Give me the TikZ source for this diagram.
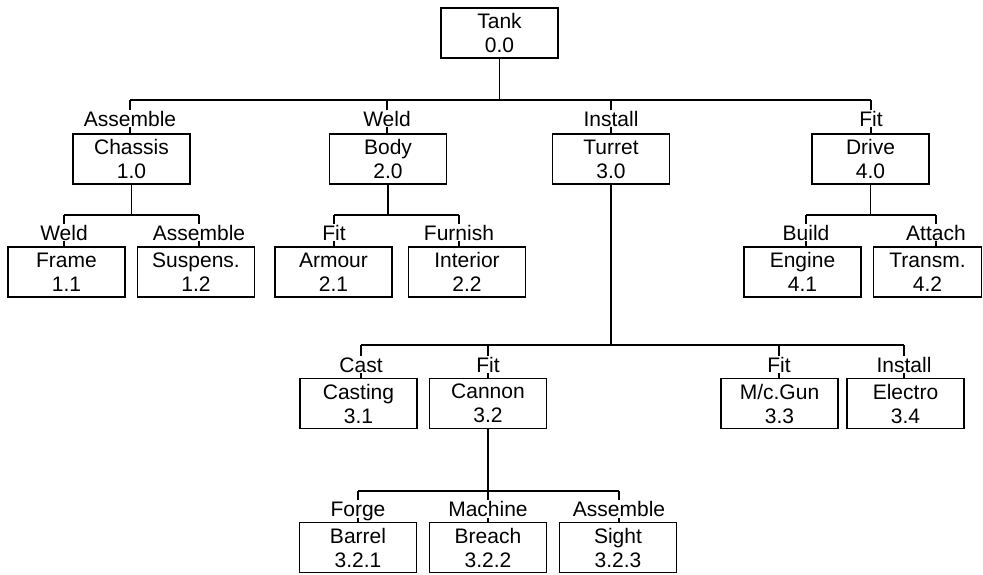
\documentclass[tikz,border=0pt]{standalone}
\usepackage{fontspec}
\setmainfont{Liberation Sans}
\begin{document}
\begin{tikzpicture}[x=1pt,y=-1pt, font=\fontsize{21}{24}\selectfont,
  box/.style={draw, line width=1.3pt, minimum width=117pt, minimum height=50pt, inner sep=0pt, align=center},
  lab/.style={inner sep=1pt, text height=15pt, text depth=0pt, anchor=base},
  conn/.style={line width=1.3pt}]
\useasboundingbox (0,0) rectangle (983,574);
% boxes
\node[box] (tank) at (499.5,33) {Tank\\0.0};
\node[box] (chassis) at (131.5,159) {Chassis\\1.0};
\node[box] (body) at (388,159) {Body\\2.0};
\node[box] (turret) at (611,159) {Turret\\3.0};
\node[box] (drive) at (870.5,159) {Drive\\4.0};
\node[box] (frame) at (66.5,272) {Frame\\1.1};
\node[box] (suspens) at (196,272) {Suspens.\\1.2};
\node[box] (armour) at (333.5,272) {Armour\\2.1};
\node[box] (interior) at (467,272) {Interior\\2.2};
\node[box] (engine) at (802.5,272) {Engine\\4.1};
\node[box, minimum width=108pt] (transm) at (927.5,272) {Transm.\\4.2};
\node[box] (casting) at (358.5,403.5) {Casting\\3.1};
\node[box] (cannon) at (488,403.5) {Cannon\\3.2};
\node[box] (mcgun) at (779.5,403.5) {M/c.Gun\\3.3};
\node[box] (electro) at (905.5,403.5) {Electro\\3.4};
\node[box] (barrel) at (358,547.5) {Barrel\\3.2.1};
\node[box] (breach) at (488,547.5) {Breach\\3.2.2};
\node[box] (sight) at (618,547.5) {Sight\\3.2.3};
% labels
\node[lab] (lchassis) at (130,126) {Assemble};
\node[lab] (lbody) at (387,126) {Weld};
\node[lab] (lturret) at (611,126) {Install};
\node[lab] (ldrive) at (871,126) {Fit};
\node[lab] (lframe) at (64,240) {Weld};
\node[lab] (lsuspens) at (199,240) {Assemble};
\node[lab] (larmour) at (334,240) {Fit};
\node[lab] (linterior) at (459,240) {Furnish};
\node[lab] (lengine) at (806,240) {Build};
\node[lab] (ltransm) at (936,240) {Attach};
\node[lab] (lcasting) at (361,372) {Cast};
\node[lab] (lcannon) at (488,372) {Fit};
\node[lab] (lmcgun) at (779,372) {Fit};
\node[lab] (lelectro) at (904,372) {Install};
\node[lab] (lbarrel) at (358,516.5) {Forge};
\node[lab] (lbreach) at (488,516.5) {Machine};
\node[lab] (lsight) at (619,516.5) {Assemble};
% bus levels
\coordinate (bus1) at (0,100);
\coordinate (bus2) at (0,215);
\coordinate (bus3) at (0,345);
\coordinate (bus4) at (0,491);
% parent verticals
\draw[conn] (tank.south) -- (tank.south |- bus1);
\draw[conn] (chassis.south) -- (chassis.south |- bus2);
\draw[conn] (body.south) -- (body.south |- bus2);
\draw[conn] (drive.south) -- (drive.south |- bus2);
\draw[conn] (turret.south) -- (turret.south |- bus3);
\draw[conn] (cannon.south) -- (cannon.south |- bus4);
% horizontal buses
\draw[conn] (lchassis.north |- bus1) -- (ldrive.north |- bus1);
\draw[conn] (lframe.north |- bus2) -- (lsuspens.north |- bus2);
\draw[conn] (larmour.north |- bus2) -- (linterior.north |- bus2);
\draw[conn] (lengine.north |- bus2) -- (ltransm.north |- bus2);
\draw[conn] (lcasting.north |- bus3) -- (lelectro.north |- bus3);
\draw[conn] (lbarrel.north |- bus4) -- (lsight.north |- bus4);
% drops through labels
\foreach \l/\b/\bus in {lchassis/chassis/bus1, lbody/body/bus1, lturret/turret/bus1, ldrive/drive/bus1,
  lframe/frame/bus2, lsuspens/suspens/bus2, larmour/armour/bus2, linterior/interior/bus2,
  lengine/engine/bus2, ltransm/transm/bus2,
  lcasting/casting/bus3, lcannon/cannon/bus3, lmcgun/mcgun/bus3, lelectro/electro/bus3,
  lbarrel/barrel/bus4, lbreach/breach/bus4, lsight/sight/bus4}{
  \draw[conn] (\l.north |- \bus) -- (\l.north);
  \draw[conn] (\l.south) -- (\l.south |- \b.north);
}
\end{tikzpicture}
\end{document}
